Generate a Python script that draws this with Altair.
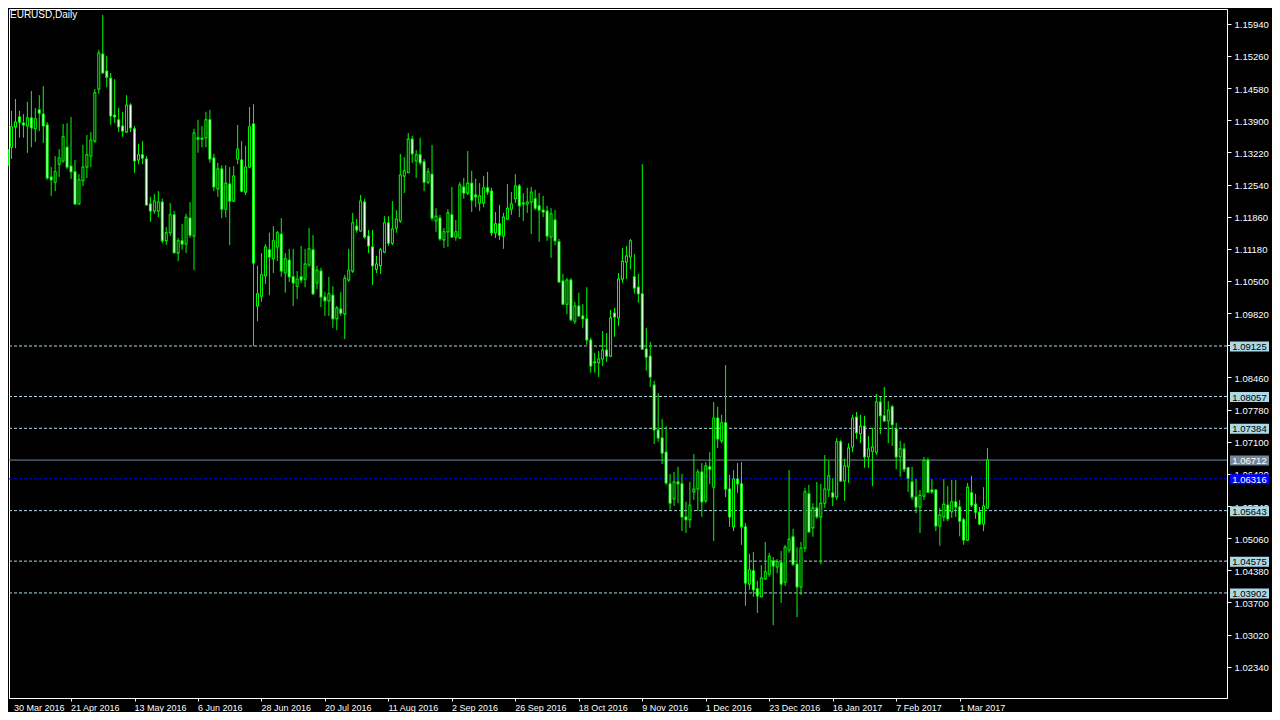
import altair as alt
import pandas as pd

symbol_title = "EURUSD,Daily"

opens = [
1.1295,1.1333,1.1376,1.1397,1.1384,1.1378,1.1395,1.1372,1.1412,1.1403,
1.1380,1.1270,1.1259,1.1297,1.1304,1.1333,1.1293,1.1281,1.1213,1.1262,
1.1291,1.1314,1.1346,1.1456,1.1530,1.1494,1.1479,1.1401,1.1391,1.1378,
1.1365,1.1422,1.1372,1.1306,1.1317,1.1308,1.1213,1.1198,1.1198,1.1217,
1.1135,1.1152,1.1190,1.1109,1.1135,1.1128,1.1183,1.1145,1.1353,1.1350,
1.1353,1.1391,1.1310,1.1245,1.1287,1.1202,1.1255,1.1219,1.1308,1.1306,
1.1238,1.1291,1.1382,1.0997,1.1018,1.1061,1.1116,1.1097,1.1122,1.1149,
1.1067,1.1094,1.1059,1.1039,1.1059,1.1054,1.1084,1.1116,1.1046,1.1071,
1.1016,1.1008,1.1020,1.0970,1.0991,1.0980,1.1052,1.1071,1.1166,1.1156,
1.1217,1.1145,1.1122,1.1075,1.1082,1.1111,1.1173,1.1130,1.1162,1.1177,
1.1272,1.1279,1.1350,1.1304,1.1317,1.1302,1.1259,1.1276,1.1177,1.1183,
1.1137,1.1154,1.1190,1.1143,1.1141,1.1249,1.1236,1.1257,1.1232,1.1215,
1.1215,1.1247,1.1240,1.1152,1.1171,1.1145,1.1181,1.1202,1.1224,1.1251,
1.1215,1.1213,1.1217,1.1224,1.1209,1.1200,1.1198,1.1143,1.1179,1.1133,
1.1050,1.1001,1.1052,1.0965,1.0997,1.0976,1.0970,1.0925,1.0879,1.0877,
1.0885,1.0904,1.0891,1.0982,1.0972,1.1054,1.1090,1.1101,1.1059,1.1037,
1.1023,1.0906,1.0891,1.0830,1.0735,1.0718,1.0688,1.0621,1.0589,1.0625,
1.0621,1.0551,1.0545,1.0604,1.0610,1.0646,1.0585,1.0657,1.0614,1.0760,
1.0712,1.0750,1.0610,1.0530,1.0631,1.0621,1.0530,1.0409,1.0437,1.0399,
1.0382,1.0420,1.0430,1.0458,1.0445,1.0454,1.0413,1.0481,1.0509,1.0451,
1.0403,1.0485,1.0600,1.0528,1.0570,1.0551,1.0580,1.0608,1.0602,1.0593,
1.0710,1.0627,1.0657,1.0699,1.0762,1.0727,1.0743,1.0678,1.0690,1.0688,
1.0794,1.0765,1.0754,1.0784,1.0737,1.0678,1.0695,1.0655,1.0625,1.0593,
1.0572,1.0595,1.0671,1.0608,1.0608,1.0532,1.0551,1.0576,1.0562,1.0583,
1.0572,1.0545,1.0502,1.0602,1.0578,1.0561,1.0536,1.0570]

highs = [
1.1336,1.1410,1.1435,1.1410,1.1403,1.1429,1.1452,1.1416,1.1443,1.1462,
1.1386,1.1291,1.1314,1.1329,1.1382,1.1384,1.1397,1.1306,1.1276,1.1338,
1.1359,1.1365,1.1456,1.1539,1.1613,1.1526,1.1490,1.1477,1.1416,1.1408,
1.1443,1.1426,1.1378,1.1340,1.1346,1.1314,1.1228,1.1234,1.1240,1.1224,
1.1164,1.1215,1.1198,1.1141,1.1171,1.1192,1.1217,1.1372,1.1391,1.1378,
1.1408,1.1412,1.1319,1.1300,1.1295,1.1295,1.1291,1.1293,1.1380,1.1346,
1.1336,1.1418,1.1424,1.1082,1.1109,1.1128,1.1152,1.1166,1.1156,1.1183,
1.1109,1.1118,1.1118,1.1071,1.1124,1.1118,1.1162,1.1147,1.1082,1.1078,
1.1027,1.1059,1.1039,1.0997,1.1027,1.1063,1.1118,1.1194,1.1181,1.1232,
1.1224,1.1158,1.1158,1.1103,1.1120,1.1187,1.1187,1.1219,1.1200,1.1319,
1.1312,1.1363,1.1357,1.1327,1.1353,1.1308,1.1289,1.1338,1.1204,1.1190,
1.1162,1.1202,1.1249,1.1179,1.1259,1.1268,1.1325,1.1283,1.1266,1.1257,
1.1272,1.1281,1.1247,1.1196,1.1211,1.1194,1.1255,1.1238,1.1276,1.1255,
1.1236,1.1247,1.1249,1.1243,1.1236,1.1230,1.1209,1.1204,1.1200,1.1139,
1.1065,1.1056,1.1056,1.1006,1.1025,1.1001,1.1037,1.0930,1.0898,1.0902,
1.0944,1.0940,1.0989,1.0993,1.1067,1.1120,1.1124,1.1139,1.1107,1.1065,
1.1297,1.0951,1.0921,1.0839,1.0813,1.0758,1.0743,1.0642,1.0646,1.0657,
1.0642,1.0583,1.0625,1.0684,1.0652,1.0665,1.0667,1.0688,1.0794,1.0784,
1.0767,1.0872,1.0640,1.0650,1.0665,1.0667,1.0538,1.0473,1.0477,1.0416,
1.0449,1.0498,1.0475,1.0466,1.0462,1.0479,1.0492,1.0650,1.0526,1.0487,
1.0498,1.0612,1.0619,1.0580,1.0625,1.0621,1.0682,1.0671,1.0633,1.0718,
1.0714,1.0674,1.0707,1.0767,1.0773,1.0767,1.0765,1.0722,1.0739,1.0811,
1.0805,1.0826,1.0796,1.0788,1.0750,1.0712,1.0707,1.0657,1.0657,1.0631,
1.0608,1.0678,1.0676,1.0631,1.0610,1.0570,1.0631,1.0616,1.0629,1.0629,
1.0587,1.0549,1.0623,1.0638,1.0600,1.0572,1.0614,1.0697]

lows = [
1.1285,1.1308,1.1331,1.1353,1.1353,1.1321,1.1333,1.1344,1.1367,1.1342,
1.1264,1.1230,1.1240,1.1270,1.1300,1.1287,1.1266,1.1211,1.1211,1.1251,
1.1268,1.1291,1.1342,1.1446,1.1489,1.1460,1.1380,1.1384,1.1365,1.1355,
1.1363,1.1365,1.1279,1.1297,1.1297,1.1209,1.1175,1.1192,1.1185,1.1130,
1.1126,1.1145,1.1108,1.1092,1.1116,1.1109,1.1141,1.1073,1.1321,1.1333,
1.1333,1.1300,1.1240,1.1228,1.1183,1.1185,1.1126,1.1217,1.1297,1.1238,
1.1232,1.1289,1.09125,1.0965,1.1006,1.1044,1.1020,1.1067,1.1092,1.1059,
1.1025,1.1048,1.0997,1.1012,1.1046,1.1037,1.1080,1.1020,1.1033,1.0995,
1.0976,1.0976,1.0951,1.0946,1.0976,1.0927,1.1048,1.1067,1.1152,1.1154,
1.1139,1.1109,1.1042,1.1067,1.1065,1.1109,1.1124,1.1126,1.1152,1.1173,
1.1236,1.1278,1.1300,1.1268,1.1295,1.1240,1.1255,1.1177,1.1154,1.1135,
1.1120,1.1122,1.1141,1.1135,1.1139,1.1224,1.1232,1.1196,1.1206,1.1198,
1.1206,1.1232,1.1145,1.1141,1.1137,1.1118,1.1179,1.1190,1.1215,1.1185,
1.1177,1.1194,1.1149,1.1200,1.1133,1.1185,1.1135,1.1099,1.1126,1.1046,
1.0999,1.0980,1.0965,1.0959,1.0974,1.0951,1.0915,1.0856,1.0856,1.0847,
1.0870,1.0879,1.0889,1.0932,1.0955,1.1046,1.1054,1.1075,1.1023,1.1004,
1.0904,1.0860,1.0826,1.0705,1.0710,1.0663,1.0619,1.0566,1.0574,1.0580,
1.0521,1.0517,1.0528,1.0587,1.0564,1.0551,1.0580,1.0621,1.0500,1.0697,
1.0707,1.0593,1.0530,1.0521,1.0602,1.0492,1.0363,1.0397,1.0382,1.0348,
1.0381,1.0418,1.0424,1.0322,1.0432,1.0369,1.0405,1.0475,1.0447,1.0339,
1.0386,1.0477,1.0518,1.0509,1.0547,1.0451,1.0570,1.0593,1.0574,1.0587,
1.0625,1.0585,1.0623,1.0688,1.0716,1.0707,1.0655,1.0655,1.0616,1.0682,
1.0726,1.0752,1.0707,1.0701,1.0652,1.0636,1.0646,1.0604,1.0587,1.0559,
1.0517,1.0587,1.0602,1.0600,1.0521,1.0490,1.0542,1.0542,1.0549,1.0551,
1.0510,1.0492,1.0500,1.0572,1.0547,1.0534,1.0521,1.0568]

closes = [
1.1327,1.1376,1.1386,1.1386,1.1380,1.1395,1.1374,1.1393,1.1405,1.1378,
1.1268,1.1264,1.1281,1.1310,1.1355,1.1291,1.1281,1.1213,1.1264,1.1291,
1.1317,1.1348,1.1448,1.1532,1.1490,1.1481,1.1399,1.1397,1.1376,1.1367,
1.1422,1.1374,1.1304,1.1317,1.1310,1.1211,1.1198,1.1219,1.1217,1.1135,
1.1152,1.1190,1.1110,1.1135,1.1128,1.1185,1.1147,1.1363,1.1350,1.1352,
1.1391,1.1308,1.1249,1.1287,1.1202,1.1257,1.1219,1.1272,1.1329,1.1240,
1.1291,1.1376,1.1088,1.1023,1.1063,1.1122,1.1101,1.1135,1.1152,1.1071,
1.1097,1.1059,1.1046,1.1054,1.1052,1.1086,1.1118,1.1023,1.1073,1.1016,
1.1008,1.1023,1.0970,1.0993,1.0982,1.1056,1.1073,1.1173,1.1158,1.1219,
1.1143,1.1124,1.1082,1.1086,1.1116,1.1173,1.1130,1.1160,1.1181,1.1274,
1.1283,1.1350,1.1319,1.1317,1.1300,1.1259,1.1281,1.1183,1.1187,1.1139,
1.1154,1.1194,1.1143,1.1154,1.1253,1.1236,1.1257,1.1221,1.1228,1.1230,
1.1247,1.1238,1.1152,1.1171,1.1147,1.1185,1.1204,1.1213,1.1251,1.1209,
1.1213,1.1217,1.1238,1.1204,1.1200,1.1196,1.1145,1.1192,1.1135,1.1048,
1.1001,1.1052,1.0968,1.0997,1.0976,1.0970,1.0925,1.0870,1.0877,1.0885,
1.0904,1.0891,1.0972,1.0974,1.1054,1.1092,1.1103,1.1135,1.1035,1.1023,
1.0906,1.0889,1.0847,1.0735,1.0718,1.0686,1.0623,1.0580,1.0625,1.0621,
1.0551,1.0545,1.0576,1.0610,1.0646,1.0583,1.0659,1.0652,1.0760,1.0716,
1.0750,1.0610,1.0551,1.0631,1.0621,1.0530,1.0411,1.0439,1.0397,1.0384,
1.0422,1.0435,1.0468,1.0447,1.0456,1.0409,1.0487,1.0504,1.0451,1.0403,
1.0485,1.0604,1.0519,1.0570,1.0551,1.0580,1.0610,1.0638,1.0593,1.0710,
1.0627,1.0659,1.0697,1.0760,1.0729,1.0743,1.0678,1.0695,1.0699,1.0794,
1.0765,1.0754,1.0777,1.0746,1.0678,1.0695,1.0652,1.0633,1.0593,1.0572,
1.0597,1.0671,1.0603,1.0604,1.0532,1.0555,1.0578,1.0547,1.0583,1.0572,
1.0542,1.0502,1.0614,1.0576,1.0561,1.0536,1.0574,1.06712]

date_labels = ["30 Mar 2016", "21 Apr 2016", "13 May 2016", "6 Jun 2016",
               "28 Jun 2016", "20 Jul 2016", "11 Aug 2016", "2 Sep 2016",
               "26 Sep 2016", "18 Oct 2016", "9 Nov 2016", "1 Dec 2016",
               "23 Dec 2016", "16 Jan 2017", "7 Feb 2017", "1 Mar 2017"]
date_bars = [0, 16, 32, 48, 64, 80, 96, 112, 128, 144, 160, 176, 192, 208, 224, 240]

price_ticks = [1.02340, 1.03020, 1.03700, 1.04380, 1.05060, 1.05740, 1.06420,
               1.07100, 1.07780, 1.08460, 1.09140, 1.09820, 1.10500, 1.11180,
               1.11860, 1.12540, 1.13220, 1.13900, 1.14580, 1.15260, 1.15940]

level_lines = [1.09125, 1.08057, 1.07384, 1.05643, 1.04575, 1.03902]
bid_price = 1.06712
blue_level = 1.06316

LIME = "#00ff00"
FONT = "Liberation Sans"

n = len(opens)
df = pd.DataFrame({"bar": list(range(n)), "open": opens, "high": highs,
                   "low": lows, "close": closes})
df["top"] = df[["open", "close"]].max(axis=1)
df["bot"] = df[["open", "close"]].min(axis=1)
df["fill"] = ["#000000" if c >= o else "#ffffff" for o, c in zip(df["open"], df["close"])]
df["inner"] = (df["top"] - df["bot"]) > 0.00032

xs = alt.Scale(domain=[1.625, 306.125], nice=False, zero=False)
ys = alt.Scale(domain=[1.01680, 1.16253], nice=False, zero=False)

x_axis = alt.Axis(orient="bottom", values=date_bars, labels=False,
                  ticks=True, tickSize=3, tickColor="#ffffff",
                  domainColor="#ffffff", grid=False, title=None)
y_axis = alt.Axis(orient="right", values=price_ticks, format=".5f",
                  labelColor="#ffffff", tickColor="#ffffff",
                  domainColor="#ffffff", tickSize=4, labelPadding=3,
                  labelFont=FONT, labelFontSize=9.5, labelOffset=1,
                  labelOverlap=False, grid=False, title=None)


def X(field):
    return alt.X(field, scale=xs, axis=x_axis)


def Y(field):
    return alt.Y(field, scale=ys, axis=y_axis)


base = alt.Chart(df)

wicks = base.mark_rule(color=LIME, strokeWidth=1).encode(
    x=X("bar:Q"), y=Y("low:Q"), y2="high:Q")

bodies = base.mark_bar(color=LIME, size=3, yOffset=-0.5, y2Offset=0.5).encode(
    x=X("bar:Q"), y=Y("top:Q"), y2="bot:Q")

inner = base.transform_filter("datum.inner").mark_bar(
    size=1, yOffset=0.5, y2Offset=-0.5).encode(
    x=X("bar:Q"), y=Y("top:Q"), y2="bot:Q",
    color=alt.Color("fill:N", scale=None))

lv_df = pd.DataFrame({"price": level_lines})
lines = alt.Chart(lv_df).mark_rule(color="#add8e6", strokeDash=[3, 2], strokeWidth=1).encode(
    y=Y("price:Q"))

bid_line = alt.Chart(pd.DataFrame({"price": [bid_price]})).mark_rule(
    color="#778899", strokeWidth=1).encode(y=Y("price:Q"))

blue_line = alt.Chart(pd.DataFrame({"price": [blue_level]})).mark_rule(
    color="#0000ff", strokeDash=[3, 2], strokeWidth=1).encode(y=Y("price:Q"))

lab_df = pd.DataFrame({
    "price": level_lines + [bid_price, blue_level],
    "bg": ["#add8e6"] * len(level_lines) + ["#778899", "#0000ff"],
    "fg": ["#000000"] * len(level_lines) + ["#ffffff", "#ffffff"],
})

boxes = alt.Chart(lab_df).mark_rect(yOffset=-4.5, y2Offset=5.5).encode(
    x=alt.value(1221), x2=alt.value(1260),
    y=Y("price:Q"), y2="price:Q",
    color=alt.Color("bg:N", scale=None),
)

box_text = alt.Chart(lab_df).mark_text(
    align="center", baseline="middle", font=FONT, fontSize=9.5, dy=1).encode(
    x=alt.value(1240.5),
    y=Y("price:Q"),
    text=alt.Text("price:Q", format=".5f"),
    color=alt.Color("fg:N", scale=None),
)

title = alt.Chart(pd.DataFrame({"t": [symbol_title]})).mark_text(
    align="left", baseline="top", color="#ffffff", font=FONT, fontSize=10).encode(
    x=alt.value(1), y=alt.value(1), text="t:N")

dates_df = pd.DataFrame({"label": date_labels, "bar": date_bars})
dates = alt.Chart(dates_df).transform_calculate(
    xpos="max(datum.bar, 1.625)").mark_text(
    align="left", baseline="middle", color="#ffffff", font=FONT, fontSize=9).encode(
    x=X("xpos:Q"),
    y=alt.value(699),
    text="label:N",
)

chart = alt.layer(
    lines, bid_line, blue_line, wicks, bodies, inner, boxes, box_text, title, dates
).properties(
    width=1218, height=689,
    padding={"left": 1, "top": 1, "right": 45, "bottom": 14},
    autosize=alt.AutoSizeParams(type="none"),
    background="#000000",
).configure_view(stroke="#ffffff", strokeWidth=1)

chart.save("out.html", embed_options={"renderer": "svg", "actions": False})
